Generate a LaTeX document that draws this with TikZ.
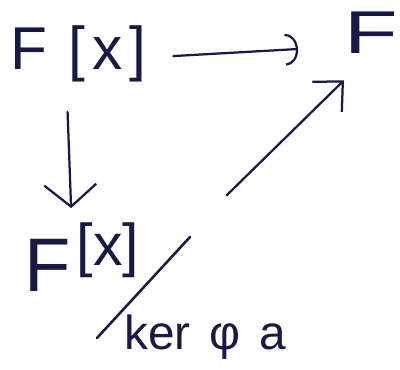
\documentclass[tikz,border=0pt]{standalone}
\usepackage{fontspec}
\setmainfont{Liberation Sans}
\usetikzlibrary{arrows.meta}
\definecolor{ink}{RGB}{25,25,70}
\tikzset{
  obj/.style={inner sep=0pt, anchor=base west, text=ink, font=\fontsize{43}{46}\selectfont},
  lbl/.style={inner sep=0pt, anchor=base west, text=ink, font=\fontsize{34}{36}\selectfont},
  map/.style={draw=ink, line width=1.6pt, line cap=round},
}
\begin{document}
\begin{tikzpicture}
  \useasboundingbox (0,0) rectangle (10,9.25);
  %%%%%%%%%%%%%%%%% vertices %%%%%%%%%%%%%%%%%%%
  % base west of each object
  \node[obj] (poly) at (0.25,7.52) {F\hspace{0.35em}[\hspace{0.12em}x\hspace{0.12em}]};
  \node[obj] (field) at (8.6,7.92) {\scalebox{1.45}[1]{F}};
  \node[obj] (quot) at (0.6,1.95) {{\fontsize{54}{60}\selectfont F}\hspace{0.1em}\raisebox{0.65cm}{\fontsize{42}{44}\selectfont[x]}};
  \node[lbl] (ker) at (3.1,0.5) {ker\hspace{0.4em}φ\hspace{0.4em}a};
  % the quotient slash and the foot of the induced map
  \coordinate (s1) at (2.425,0.8);
  \coordinate (s2) at (4.75,3.325);
  \coordinate (qtop) at (5.675,4.375);
  %%%%%%%%%%%%%%%%% edges %%%%%%%%%%%%%%%%%%%%%%%
  \draw[map, -{Arc Barb[length=0.32cm, width=0.8cm]}, shorten <=0.66cm, shorten >=1.15cm]
    ([yshift=-0.1cm]poly.east) -- ([yshift=-0.35cm]field.west);
  \draw[map, -{Straight Barb[length=0.55cm, width=1.3cm]}, shorten <=0.75cm, shorten >=0.37cm]
    ([xshift=-0.3cm]poly.south) -- ([xshift=-0.25cm]quot.north);
  \draw[map, line width=1.8pt] (s1) -- (s2);
  \draw[map, -{Straight Barb[length=0.55cm, width=1.05cm]}]
    (qtop) -- ([yshift=-0.67cm]field.south west);
\end{tikzpicture}
\end{document}
